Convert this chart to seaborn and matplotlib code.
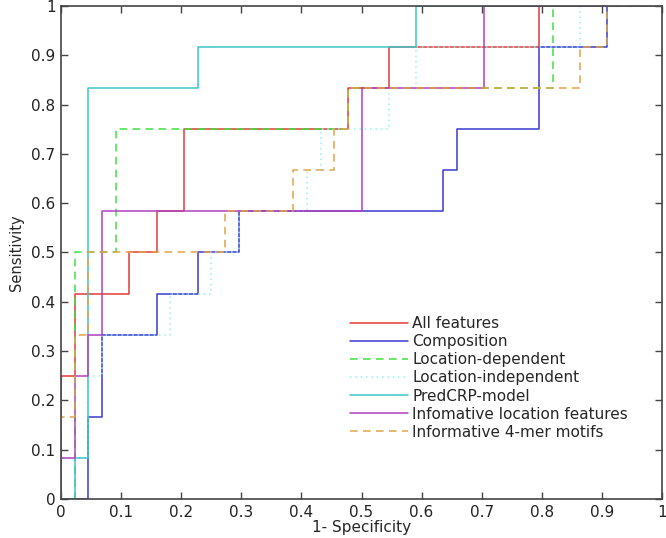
import matplotlib
matplotlib.use("Agg")
import matplotlib.pyplot as plt
import seaborn as sns
import numpy as np

# ROC curves
# 44 negatives and 12 positives, so the steps are counted in those units
n_neg = 44
n_pos = 12

# fp count where each rise happens, tp count after the rise
all_fp = [0, 0, 1, 5, 7, 9, 21, 24, 35, 44]
all_tp = [0, 3, 5, 6, 7, 9, 10, 11, 12, 12]

comp_fp = [0, 2, 3, 7, 10, 13, 28, 29, 35, 40, 44]
comp_tp = [0, 2, 4, 5, 6, 7, 8, 9, 11, 12, 12]

locdep_fp = [0, 1, 4, 21, 36, 44]
locdep_tp = [0, 6, 9, 10, 12, 12]

locind_fp = [0, 0, 2, 3, 8, 11, 13, 18, 19, 24, 26, 38, 44]
locind_tp = [0, 1, 3, 4, 5, 6, 7, 8, 9, 10, 11, 12, 12]

pred_fp = [0, 1, 2, 10, 26, 44]
pred_tp = [0, 1, 10, 11, 12, 12]

infoloc_fp = [0, 0, 1, 2, 3, 22, 31, 44]
infoloc_tp = [0, 1, 3, 4, 7, 10, 12, 12]

mer_fp = [0, 0, 1, 2, 12, 17, 20, 21, 38, 40, 44]
mer_tp = [0, 2, 4, 6, 7, 8, 9, 10, 11, 12, 12]

labels = ["All features", "Composition", "Location-dependent", "Location-independent",
          "PredCRP-model", "Infomative location features", "Informative 4-mer motifs"]
colors = ["#e23a3a", "#3b3bcf", "#3fe03f", "#8ff2f2", "#3cc6c6", "#b040c0", "#e0a448"]
styles = ["-", "-", (0, (5, 3.5)), (0, (1, 2.5)), "-", "-", (0, (5, 3.5))]

curves = [(all_fp, all_tp), (comp_fp, comp_tp), (locdep_fp, locdep_tp),
          (locind_fp, locind_tp), (pred_fp, pred_tp), (infoloc_fp, infoloc_tp),
          (mer_fp, mer_tp)]

sns.set_style("ticks")
plt.rcParams['font.family'] = ['DejaVu Sans']

fig = plt.figure(figsize=(6.66, 5.38), dpi=100)
ax = fig.add_axes([0.0916, 0.0725, 0.9024, 0.9165])

for (fp, tp), lab, col, ls in zip(curves, labels, colors, styles):
    x = np.array(fp) / n_neg
    y = np.array(tp) / n_pos
    sns.lineplot(x=x, y=y, ax=ax, color=col, linestyle=ls, linewidth=1.1,
                 drawstyle="steps-post", estimator=None, sort=False, label=lab)

ax.set_xlim(0, 1)
ax.set_ylim(0, 1)
ax.set_xticks(np.arange(0, 1.01, 0.1))
ax.set_yticks(np.arange(0, 1.01, 0.1))
ax.set_xticklabels(["0", "0.1", "0.2", "0.3", "0.4", "0.5", "0.6", "0.7", "0.8", "0.9", "1"])
ax.set_yticklabels(["0", "0.1", "0.2", "0.3", "0.4", "0.5", "0.6", "0.7", "0.8", "0.9", "1"])
ax.tick_params(direction="in", top=True, right=True, length=5, width=1,
               labelsize=11, color="#444444", labelcolor="#222222", pad=4)
for s in ax.spines.values():
    s.set_color("#444444")
    s.set_linewidth(1.2)

ax.set_xlabel("1- Specificity", fontsize=11, labelpad=0)
ax.set_ylabel("Sensitivity", fontsize=10.5, labelpad=5)

ax.legend(loc="lower left", bbox_to_anchor=(0.47, 0.108), frameon=False,
          fontsize=11, handlelength=3.8, handletextpad=0.3, labelspacing=0.2,
          borderaxespad=0)

fig.savefig("out.png", dpi=100)
